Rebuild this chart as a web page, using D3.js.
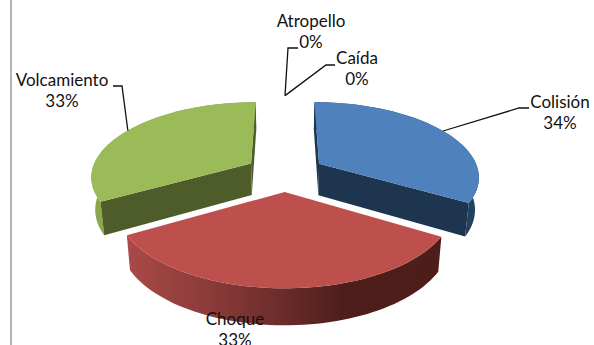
<!DOCTYPE html>
<html>
  <head>
    <meta charset="utf-8" />
    <script src="https://d3js.org/d3.v7.min.js"></script>
    <title>Accidentes</title>
    <style>
      html, body { margin: 0; padding: 0; background: #fff; overflow: hidden; }
      text { font-family: Lato, "Open Sans", sans-serif; font-size: 17px; fill: #111; }
    </style>
  </head>

  <body>
    <div id="chart"></div>

    <script>
      // values, clockwise from the top of the pie
      // labels only give whole percents, the slice angles say they are nearly equal
      var categories = ['Colisión', 'Choque', 'Volcamiento', 'Caída', 'Atropello'];
      var values = [33.5, 33.25, 33.25, 0, 0];

      var width = 594, height = 345;

      // projection of the tilted pie, worked out from the picture
      var cx = 285, cy = 172.7;
      var rx = 160, ry = 74;
      var persp = 0.16;      // front of the pie is drawn bigger than the back
      var explode = 0.25;    // slices pulled out from the centre, in radii
      var thick = 32;        // wall height
      var shrink = 0.98;     // bottom rim is a little narrower than the top

      var svg = d3.select('#chart').append('svg')
        .attr('width', width)
        .attr('height', height)
        .style('display', 'block');

      // left border of the picture
      svg.append('line')
        .attr('x1', 11).attr('x2', 11)
        .attr('y1', 0).attr('y2', height)
        .attr('stroke', '#9a9a9a')
        .attr('stroke-width', 1.5);

      var defs = svg.append('defs');
      var redWall = defs.append('linearGradient')
        .attr('id', 'redWall')
        .attr('gradientUnits', 'userSpaceOnUse')
        .attr('x1', 129).attr('x2', 442).attr('y1', 0).attr('y2', 0);
      [[0, '#a84a47'], [0.25, '#8c3b39'], [0.5, '#6a2b29'], [0.68, '#4f1e1b'], [1, '#4d1d1a']]
        .forEach(function (s) {
          redWall.append('stop').attr('offset', s[0]).attr('stop-color', s[1]);
        });

      // cuts: which radial faces can be seen from the front
      var styles = [
        { top: '#4f81bd', wall: '#23405f', cut: '#1e3550', cuts: ['startAngle', 'endAngle'] },
        { top: '#bd4f4c', wall: 'url(#redWall)', cut: '#8f3c3a', cuts: [] },
        { top: '#9bbb59', wall: '#8aa74e', cut: '#4e5c2a', cuts: ['startAngle', 'endAngle'] }
      ];

      var pie = d3.pie().sort(null).value(function (d) { return d; });
      var arcs = pie(values);
      var total = d3.sum(values);

      // world position on the disk, with the slice already pulled out
      function disk(mid, angle, radius) {
        return {
          u: explode * Math.sin(mid) + radius * Math.sin(angle),
          v: -explode * Math.cos(mid) - radius * Math.cos(angle)
        };
      }
      function topPoint(p) {
        var w = 1 - persp * p.v;
        return [cx + rx * p.u / w, cy + ry * p.v / w];
      }
      function bottomPoint(p) {
        var t = topPoint(p);
        return [cx + (t[0] - cx) * shrink, t[1] + thick * (1 + 0.125 * p.v)];
      }

      var line = d3.line();

      function rim(a, mid, fn) {
        return d3.range(0, 61).map(function (i) {
          var angle = a.startAngle + (a.endAngle - a.startAngle) * i / 60;
          return fn(disk(mid, angle, 1));
        });
      }

      function cutFace(mid, angle) {
        var inner = disk(mid, angle, 0), outer = disk(mid, angle, 1);
        return [topPoint(inner), topPoint(outer), bottomPoint(outer), bottomPoint(inner)];
      }

      // back slices first so the red one sits on top
      [0, 2, 1].forEach(function (i) {
        var a = arcs[i];
        var mid = (a.startAngle + a.endAngle) / 2;
        var st = styles[i];
        var g = svg.append('g');

        var top = rim(a, mid, topPoint);
        var bottom = rim(a, mid, bottomPoint);

        g.append('path')
          .attr('d', line(top.concat(bottom.slice().reverse())) + 'Z')
          .attr('fill', st.wall);
        st.cuts.forEach(function (key) {
          g.append('path')
            .attr('d', line(cutFace(mid, a[key])) + 'Z')
            .attr('fill', st.cut);
        });
        g.append('path')
          .attr('d', line([topPoint(disk(mid, 0, 0))].concat(top)) + 'Z')
          .attr('fill', st.top);
      });

      // label text centres and leader elbows
      var labelLayout = [
        { x: 560, y: 108, elbow: [[519, 108], [529, 108]] },
        { x: 235, y: 325, elbow: null },
        { x: 62, y: 86, elbow: [[122, 86], [113, 86]] },
        { x: 357, y: 64, elbow: [[326, 65], [335, 65]] },
        { x: 311, y: 27, elbow: [[288, 48], [298, 48]] }
      ];

      labelLayout.forEach(function (l, i) {
        var a = arcs[i];
        var mid = (a.startAngle + a.endAngle) / 2;
        if (l.elbow) {
          var anchor = topPoint(disk(mid, mid, 1));
          svg.append('path')
            .attr('d', line([anchor].concat(l.elbow)))
            .attr('fill', 'none')
            .attr('stroke', '#111')
            .attr('stroke-width', 1.3);
        }
        var text = svg.append('text')
          .attr('text-anchor', 'middle');
        text.append('tspan').attr('x', l.x).attr('y', l.y).text(categories[i]);
        text.append('tspan').attr('x', l.x).attr('y', l.y + 21)
          .text(d3.format('.0%')(values[i] / total));
      });
    </script>
  </body>
</html>
